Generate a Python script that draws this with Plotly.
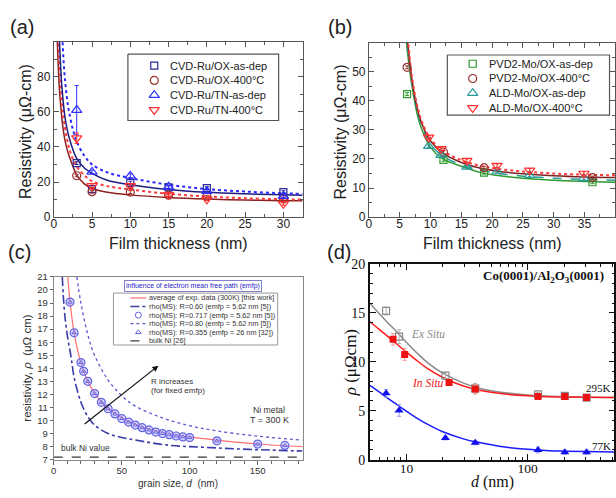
import numpy as np
import plotly.graph_objects as go

W, H = 616, 498
SANS = "Liberation Sans, Arial, sans-serif"
SERIF = "Liberation Serif, Times New Roman, serif"

# ---------------- panel (a) data ----------------
a_thk = [3, 5, 10, 15, 20, 30]
a_ox_asdep = [30.8, 16.0, 19.5, 17.0, 16.6, 14.3]
a_ox_asdep_err = [0.8, 1.0, 1.0, 0.8, 0.8, 0.8]
a_ox_400 = [23.6, 14.5, 14.3, 12.5, 11.8, 10.3]
a_ox_400_err = [0.6, 0.8, 0.8, 0.6, 0.6, 0.6]
a_tn_asdep = [61.0, 25.8, 23.5, 17.3, 14.8, 12.0]
a_tn_asdep_err = [14.0, 1.0, 1.2, 0.8, 0.8, 0.8]
a_tn_400 = [45.0, 17.8, 17.8, 12.7, 10.2, 7.6]
a_tn_400_err = [3.0, 1.2, 1.0, 0.8, 0.8, 0.8]
a_fit_thk = [0.45, 0.55, 0.65, 0.75, 0.9, 1.0, 1.15, 1.3, 1.5, 1.75, 2, 2.5, 3, 4, 5, 7, 10, 15, 20, 25, 30, 32.5]
a_fit_tn_asdep = [250, 200, 170, 150, 125, 112, 100, 88, 77, 67, 60, 50, 43, 35, 30, 25.5, 22.3, 18.5, 16, 14.6, 13.6, 13.3]
a_fit_ox_asdep = [170, 135, 113, 100, 86, 78, 70, 63, 56, 50, 45.5, 38.5, 33.5, 28, 25, 21, 18.5, 15.8, 14.2, 13.3, 12.7, 12.5]
a_fit_tn_400 = [140, 116, 100, 89, 77, 70, 62, 56, 50, 44, 39.5, 33, 29, 23.8, 20.5, 17.7, 15.8, 13.3, 11.8, 10.8, 10.2, 10.0]
a_fit_ox_400 = [102, 90, 80, 72, 64, 59, 53, 48, 43, 38.5, 35, 29, 24, 19, 16.3, 14.2, 12.7, 11.2, 10.3, 9.8, 9.4, 9.3]
a_labels = ["CVD-Ru/OX-as-dep", "CVD-Ru/OX-400°C", "CVD-Ru/TN-as-dep", "CVD-Ru/TN-400°C"]

# ---------------- panel (b) data ----------------
b_pvd_thk = [6.2, 12.1, 18.7, 36.3]
b_pvd_asdep = [42.3, 19.7, 15.3, 12.0]
b_pvd_400 = [51.5, 22.4, 17.0, 13.6]
b_ald_thk = [9.7, 11.7, 15.9, 20.8, 26.1, 34.9]
b_ald_asdep = [24.4, 21.3, 17.3, 15.7, 14.4, 13.3]
b_ald_400 = [27.4, 23.5, 19.4, 17.7, 16.1, 15.0]
b_fit_thk = [5.5, 6, 6.5, 7, 8, 9, 10, 12, 15, 18, 21, 25, 30, 35, 40]
b_fit_pvd_asdep = [76, 62, 52.5, 45, 34, 28, 24.0, 20.0, 17.5, 15.4, 14.3, 13.4, 12.7, 12.3, 12.0]
b_fit_pvd_400 = [80, 66, 56, 47, 36, 30, 26.2, 22.0, 18.8, 16.9, 15.8, 14.9, 14.2, 13.8, 13.6]
b_fit_ald_asdep = [78, 64, 54, 46, 35, 29, 25.0, 21.0, 18.0, 16.2, 15.0, 14.1, 13.4, 13.0, 12.7]
b_fit_ald_400 = [82, 68, 57.5, 48, 37, 30.8, 27.0, 22.8, 19.6, 17.7, 16.6, 15.7, 15.0, 14.6, 14.4]
b_labels = ["PVD2-Mo/OX-as-dep", "PVD2-Mo/OX-400°C", "ALD-Mo/OX-as-dep", "ALD-Mo/OX-400°C"]

# ---------------- panel (c) data ----------------
c_grain = [12, 15, 20, 22, 25, 30, 35, 40, 45, 50, 55, 60, 65, 70, 75, 80, 85, 90, 95, 100, 120, 150, 170]
c_rho_717 = [19.07, 16.72, 14.44, 13.77, 13.0, 12.06, 11.39, 10.9, 10.5, 10.15, 9.88, 9.65, 9.45, 9.28,
             9.11, 9.0, 8.91, 8.81, 8.74, 8.69, 8.44, 8.19, 8.09]
c_avg_d = [10.3, 12, 15, 20, 25, 30, 40, 50, 60, 70, 80, 100, 120, 150, 183]
c_avg_rho = [21, 19.1, 16.7, 14.4, 13.0, 12.1, 10.9, 10.2, 9.7, 9.35, 9.1, 8.75, 8.5, 8.2, 8.0]
c_r060_d = [6.3, 7, 8, 10, 12.7, 15, 20, 25, 30, 40, 50, 60, 85, 110, 135, 160, 183]
c_r060_rho = [21, 19.6, 18.2, 16.5, 14.9, 13.3, 11.4, 10.3, 9.65, 9.0, 8.7, 8.5, 8.1, 7.95, 7.82, 7.73, 7.66]
c_r080_d = [17, 20, 25, 30, 40, 50, 60, 80, 100, 120, 150, 183]
c_r080_rho = [21, 19.0, 16.6, 15.0, 13.1, 11.9, 11.1, 10.2, 9.6, 9.2, 8.8, 8.5]
c_bulk_d = [0, 183]
c_bulk_rho = [7.2, 7.2]
c_labels = ["average of exp. data (300K) [this work]", "rho(MS): R=0.60 (emfp = 5.62 nm [5])",
            "rho(MS): R=0.717 (emfp = 5.62 nm [5])", "rho(MS): R=0.80 (emfp = 5.62 nm [5])",
            "rho(MS): R=0.355 (emfp = 26 nm [32])", "bulk Ni [26]"]

# ---------------- panel (d) data ----------------
d_size = [6.8, 8.7, 21, 37, 122, 203, 307]
d_exsitu = [15.2, 12.57, 8.6, 7.28, 6.68, 6.52, 6.35]
d_exsitu_err = [0.4, 0.7, 0.3, 0.5, 0.2, 0.2, 0.2]
d_insitu_size = [7.76, 9.68, 22.5, 37, 122, 203, 307]
d_insitu = [12.3, 10.75, 7.88, 7.21, 6.45, 6.45, 6.35]
d_insitu_err = [0.6, 0.6, 0.3, 0.5, 0.2, 0.2, 0.2]
d_77k = [6.78, 5.03, 2.22, 1.72, 0.99, 0.76, 0.76]
d_77k_err = [0.4, 0.6, 0.2, 0.2, 0.3, 0.2, 0.2]
d_fit_size = [5, 6, 7, 8, 10, 12, 15, 20, 30, 40, 60, 100, 150, 200, 300, 520]
d_fit_ex = [16.0, 14.9, 14.0, 13.3, 12.0, 11.0, 9.9, 8.85, 7.8, 7.3, 6.9, 6.6, 6.48, 6.42, 6.37, 6.35]
d_fit_in = [14.1, 13.3, 12.6, 12.0, 11.0, 10.2, 9.3, 8.4, 7.5, 7.1, 6.75, 6.52, 6.43, 6.4, 6.37, 6.35]
d_fit_77 = [7.6, 6.9, 6.3, 5.8, 4.95, 4.3, 3.6, 2.85, 2.1, 1.75, 1.35, 1.05, 0.92, 0.87, 0.82, 0.78]

# ---------------- colours ----------------
NAVY, BROWN, BLUE, RED = "#2a2a96", "#9a3030", "#3030ff", "#ff3030"
GREEN, TEAL = "#2f9a2f", "#2a9a9a"

fig = go.Figure()


def add(x, y, ax, **kw):
    s = "" if ax == 1 else str(ax)
    fig.add_trace(go.Scatter(x=x, y=y, xaxis="x" + s, yaxis="y" + s, showlegend=False, **kw))


def err(vals, color):
    return dict(type="data", array=vals, color=color, thickness=1, width=2)


# ---- panel (a) ----
add(a_fit_thk, a_fit_ox_400, 1, mode="lines", line=dict(color="#8b2020", width=1.5, shape="spline"))
add(a_fit_thk, a_fit_tn_400, 1, mode="lines", line=dict(color="#ff3a3a", width=2, dash="dot", shape="spline"))
add(a_fit_thk, a_fit_ox_asdep, 1, mode="lines", line=dict(color="#1e1e80", width=1.5, shape="spline"))
add(a_fit_thk, a_fit_tn_asdep, 1, mode="lines", line=dict(color="#2a2aff", width=2, dash="dot", shape="spline"))
a_style = [
    dict(symbol="square-open", size=7, color=NAVY, line=dict(width=1.2)),
    dict(symbol="circle-open", size=8, color=BROWN, line=dict(width=1.2)),
    dict(symbol="triangle-up-open", size=9, color=BLUE, line=dict(width=1.2)),
    dict(symbol="triangle-down-open", size=9, color=RED, line=dict(width=1.2)),
]
for yv, ev, st in zip([a_ox_asdep, a_ox_400, a_tn_asdep, a_tn_400],
                      [a_ox_asdep_err, a_ox_400_err, a_tn_asdep_err, a_tn_400_err], a_style):
    add(a_thk, yv, 1, mode="markers", marker=st, error_y=err(ev, st["color"]))

# ---- panel (b) ----
add(b_fit_thk, b_fit_pvd_asdep, 2, mode="lines", line=dict(color=GREEN, width=1.5, shape="spline"))
add(b_fit_thk, b_fit_ald_asdep, 2, mode="lines", line=dict(color=TEAL, width=1.5, dash="dash", shape="spline"))
add(b_fit_thk, b_fit_pvd_400, 2, mode="lines", line=dict(color="#7a2424", width=1.5, shape="spline"))
add(b_fit_thk, b_fit_ald_400, 2, mode="lines", line=dict(color="#ff3a3a", width=2, dash="dot", shape="spline"))
b_style = [
    dict(symbol="square-open", size=7, color=GREEN, line=dict(width=1.2)),
    dict(symbol="circle-open", size=8, color=BROWN, line=dict(width=1.2)),
    dict(symbol="triangle-up-open", size=9, color=TEAL, line=dict(width=1.2)),
    dict(symbol="triangle-down-open", size=9, color=RED, line=dict(width=1.2)),
]
add(b_pvd_thk, b_pvd_asdep, 2, mode="markers", marker=b_style[0], error_y=err([0.5] * 4, GREEN))
add(b_pvd_thk, b_pvd_400, 2, mode="markers", marker=b_style[1], error_y=err([0.5] * 4, BROWN))
add(b_ald_thk, b_ald_asdep, 2, mode="markers", marker=b_style[2], error_y=err([0.4] * 6, TEAL))
add(b_ald_thk, b_ald_400, 2, mode="markers", marker=b_style[3], error_y=err([0.6] * 6, RED))

# ---- panel (c) ----
add(c_bulk_d, c_bulk_rho, 3, mode="lines", line=dict(color="#333", width=1.2, dash="dash"))
add(c_r060_d, c_r060_rho, 3, mode="lines", line=dict(color="#3a3aa8", width=1.6, dash="dashdot", shape="spline"))
add(c_r080_d, c_r080_rho, 3, mode="lines", line=dict(color="#5a5acc", width=1.3, dash="dot", shape="spline"))
add(c_avg_d, c_avg_rho, 3, mode="lines", line=dict(color="#ff7070", width=1.2, shape="spline"))
c_circle = dict(symbol="circle", size=8, color="rgba(170,170,255,0.45)", line=dict(color="#6464e6", width=1.2))
c_tri = dict(symbol="triangle-up-open", size=4, color="#6464e6", line=dict(width=1))
add(c_grain, c_rho_717, 3, mode="markers", marker=c_circle)
add(c_grain, c_rho_717, 3, mode="markers", marker=c_tri)

# ---- panel (d) ----
add(d_fit_size, d_fit_ex, 4, mode="lines", line=dict(color="#8a8a8a", width=1.5, shape="spline"))
add(d_fit_size, d_fit_in, 4, mode="lines", line=dict(color="#ff1a1a", width=1.5, shape="spline"))
add(d_fit_size, d_fit_77, 4, mode="lines", line=dict(color="#1a1aff", width=1.5, shape="spline"))
add(d_size, d_exsitu, 4, mode="markers",
    marker=dict(symbol="square-open", size=7, color="#8a8a8a", line=dict(width=1.2)),
    error_y=err(d_exsitu_err, "#b0b0b0"))
add(d_insitu_size, d_insitu, 4, mode="markers",
    marker=dict(symbol="square", size=7, color="#ee1111"), error_y=err(d_insitu_err, "#f59a9a"))
add(d_size, d_77k, 4, mode="markers",
    marker=dict(symbol="triangle-up", size=8, color="#1111ee"), error_y=err(d_77k_err, "#9a9af5"))


# ---------------- overlay (pixel space) helpers for legends / labels ----------------
def txt(x, y, s, size, family=SANS, color="#222", xanchor="center", yanchor="middle", angle=0, **kw):
    fig.add_annotation(x=x, y=y, xref="x5", yref="y5", text=s, showarrow=False, textangle=angle,
                       font=dict(family=family, size=size, color=color), xanchor=xanchor, yanchor=yanchor, **kw)


def box(x0, y0, x1, y1, color="#666", width=1):
    fig.add_trace(go.Scatter(x=[x0, x1, x1, x0, x0], y=[y0, y0, y1, y1, y0], xaxis="x5", yaxis="y5",
                             mode="lines", line=dict(color=color, width=width), showlegend=False,
                             hoverinfo="skip"))


def legend(items, bx, sym_x, txt_x, y0, dy, size, color="#222", line_half=0, boxcolor="#666", boxw=1):
    box(*bx, color=boxcolor, width=boxw)
    for i, (label, kind, st) in enumerate(items):
        yy = y0 + i * dy
        if kind == "marker":
            fig.add_trace(go.Scatter(x=[sym_x], y=[yy], xaxis="x5", yaxis="y5", mode="markers",
                                     marker=st, showlegend=False, hoverinfo="skip"))
        else:
            fig.add_trace(go.Scatter(x=[sym_x - line_half, sym_x + line_half], y=[yy, yy], xaxis="x5",
                                     yaxis="y5", mode="lines", line=st, showlegend=False, hoverinfo="skip"))
        txt(txt_x, yy, label, size, color=color, xanchor="left")


legend([(l, "marker", s) for l, s in zip(a_labels, a_style)],
       (125.5, 48.5, 277, 117), 152, 166, 60.5, 15.2, 11, boxcolor="#555", boxw=1.2)
legend([(l, "marker", s) for l, s in zip(b_labels, b_style)],
       (446.5, 49.5, 609.5, 111.5), 472, 486, 58.5, 15.2, 11, boxcolor="#555", boxw=1.2)
c_items = [
    (c_labels[0], "line", dict(color="#ff7070", width=1.2)),
    (c_labels[1], "line", dict(color="#3a3aa8", width=1.6, dash="dashdot")),
    (c_labels[2], "marker", dict(symbol="circle-open", size=6, color="#6464e6", line=dict(width=1))),
    (c_labels[3], "line", dict(color="#5a5acc", width=1.3, dash="dot")),
    (c_labels[4], "marker", dict(symbol="triangle-up-open", size=5, color="#6464e6", line=dict(width=1))),
    (c_labels[5], "line", dict(color="#333", width=1.2, dash="dash")),
]
legend(c_items, (111, 295, 276, 348.5), 136, 144.5, 300, 8.85, 7.3, color="#333", line_half=8, boxcolor="#999")

# panel letters
txt(19, 21, "(a)", 20)
txt(339, 21, "(b)", 20)
txt(17, 253, "(c)", 20)
txt(338, 253, "(d)", 20)

# axis titles (a), (b)
txt(22, 128, "Resistivity (μΩ-cm)", 16, angle=-90)
txt(176, 244, "Film thickness (nm)", 16)
txt(339, 129, "Resistivity (μΩ-cm)", 16, angle=-90)
txt(491.5, 244, "Film thickness (nm)", 16)

# axis titles (c)
txt(24, 372, "resistivity, <i>ρ</i>  (μΩ cm)", 11.5, color="#333", angle=-90)
txt(176, 491, "grain size, <i>d</i>  (nm)", 10, color="#333")
txt(191, 287.5, "influence of electron mean free path (emfp)", 7, color="#2525cc",
    bordercolor="#8080c8", borderwidth=1, borderpad=1, bgcolor="white")

# axis titles (d)
txt(350, 367, "<i>ρ</i> (μΩcm)", 17, family=SERIF, color="#111", angle=-90)
txt(492, 490, "<i>d</i> (nm)", 16, family=SERIF, color="#111")
txt(606, 278, "<b>Co(0001)/Al<sub>2</sub>O<sub>3</sub>(0001)</b>", 13, family=SERIF, color="#111", xanchor="right")
txt(408, 337, "<i>Ex Situ</i>", 11.5, family=SERIF, color="#8a8a8a", xanchor="left")
txt(409, 388, "<i>In Situ</i>", 11.5, family=SERIF, color="#ee1111", xanchor="left")
txt(613, 393, "295K", 11, family=SERIF, color="#111", xanchor="right")
txt(613, 453, "77K", 11, family=SERIF, color="#111", xanchor="right")

# panel (c) in-plot annotations (data coordinates)
fig.add_annotation(x=77, y=14.2, ax=20.5, ay=9.55, xref="x3", yref="y3", axref="x3", ayref="y3",
                   showarrow=True, arrowhead=2, arrowsize=1, arrowwidth=1.2, arrowcolor="#111", text=" ")
for (xx, yy, s, sz, anc) in [(70, 13.0, "R increases", 8, "left"), (70, 12.3, "(for fixed emfp)", 8, "left"),
                             (158, 10.84, "Ni metal", 8.7, "center"), (159, 10.05, "T = 300 K", 9, "center"),
                             (4, 7.87, "bulk Ni value", 8.5, "left")]:
    fig.add_annotation(x=xx, y=yy, xref="x3", yref="y3", text=s, showarrow=False, xanchor=anc,
                       font=dict(family=SANS, size=sz, color="#333"))


# ---------------- axes ----------------
def ab_axis(domain, rng, tickvals, minorvals, standoff=0):
    return dict(domain=domain, range=rng, tickmode="array", tickvals=tickvals, showgrid=False, zeroline=False,
                showline=True, linecolor="#555", linewidth=1, mirror="ticks", ticks="inside", ticklen=5,
                tickcolor="#555", tickfont=dict(family=SANS, size=12, color="#222"),
                ticklabelstandoff=standoff,
                minor=dict(ticks="inside", ticklen=3, tickcolor="#555", tickmode="array", tickvals=minorvals),
                fixedrange=True)


ya_dom = [1 - 216.7 / H, 1 - 35.7 / H]
yb_dom = [1 - 216.7 / H, 1 - 36.7 / H]
layout = dict(
    width=W, height=H, margin=dict(l=0, r=0, t=0, b=0), paper_bgcolor="white",
    plot_bgcolor="rgba(0,0,0,0)", showlegend=False,
    xaxis=dict(ab_axis([51 / W, 301 / W], [0, 32.5], [0, 5, 10, 15, 20, 25, 30],
                       [2.5, 7.5, 12.5, 17.5, 22.5, 27.5, 32.5], standoff=-5), anchor="y"),
    yaxis=dict(ab_axis(ya_dom, [0, 100], [0, 20, 40, 60, 80], [10, 30, 50, 70, 90]), anchor="x"),
    xaxis2=dict(ab_axis([367.7 / W, 615.3 / W], [0, 40], [0, 5, 10, 15, 20, 25, 30, 35],
                        [2.5, 7.5, 12.5, 17.5, 22.5, 27.5, 32.5, 37.5], standoff=-5), anchor="y2"),
    yaxis2=dict(ab_axis(yb_dom, [0, 60], [0, 10, 20, 30, 40, 50], [5, 15, 25, 35, 45, 55]), anchor="x2"),
    xaxis3=dict(domain=[51 / W, 301 / W], range=[0, 183], anchor="y3", tickmode="array",
                tickvals=[0, 50, 100, 150], showgrid=False, zeroline=False, showline=True, linecolor="#888",
                linewidth=1.2, mirror=True, ticks="outside", ticklen=4, tickcolor="#666", ticklabelstandoff=-2,
                tickfont=dict(family=SANS, size=9.5, color="#333"),
                minor=dict(ticks="outside", ticklen=3, tickcolor="#666", dtick=10, tick0=0), fixedrange=True),
    yaxis3=dict(domain=[1 - 466.7 / H, 1 - 278.3 / H], range=[7, 21], anchor="x3", dtick=1, tick0=7,
                showgrid=False, zeroline=False, showline=True, linecolor="#888", linewidth=1.2, mirror=True,
                ticks="outside", ticklen=3, tickcolor="#666", tickfont=dict(family=SANS, size=9.5, color="#333"),
                fixedrange=True),
    xaxis4=dict(domain=[368.7 / W, 614.3 / W], type="log", range=[np.log10(5), np.log10(520)], anchor="y4",
                tickmode="array", tickvals=[10, 100], ticktext=["10", "100"], showgrid=False, zeroline=False,
                showline=True, linecolor="#111", linewidth=1.5, mirror="ticks", ticks="inside", ticklen=6,
                tickcolor="#111", tickfont=dict(family=SERIF, size=13.5, color="#111"), ticklabelstandoff=-5,
                minor=dict(ticks="inside", ticklen=3, tickcolor="#111", tickmode="array",
                           tickvals=[5, 6, 7, 8, 9, 20, 30, 40, 50, 60, 70, 80, 90, 200, 300, 400, 500]),
                fixedrange=True),
    yaxis4=dict(domain=[1 - 466.7 / H, 1 - 265 / H], range=[0, 20], anchor="x4", dtick=5, tick0=0,
                showgrid=False, zeroline=False, showline=True, linecolor="#111", linewidth=1.5, mirror="ticks",
                ticks="inside", ticklen=6, tickcolor="#111", tickfont=dict(family=SERIF, size=14, color="#111"),
                minor=dict(ticks="inside", ticklen=3, tickcolor="#111", dtick=1, tick0=0), fixedrange=True),
    xaxis5=dict(domain=[0, 1], range=[0, W], visible=False, fixedrange=True, anchor="y5"),
    yaxis5=dict(domain=[0, 1], range=[H, 0], visible=False, fixedrange=True, anchor="x5"),
)
fig.update_layout(**layout)
fig.write_html("out.html")
